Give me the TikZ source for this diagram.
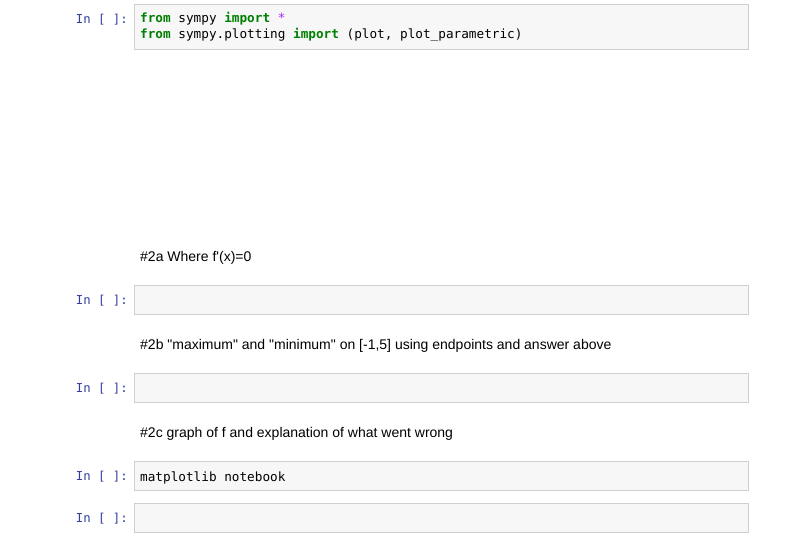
\documentclass[tikz,border=0pt]{standalone}
\usepackage{fontspec}
\setmainfont{Liberation Sans}[Ligatures=TeXOff]
\setmonofont{DejaVu Sans Mono}
\usetikzlibrary{positioning}
\definecolor{cellbg}{RGB}{247,247,247}
\definecolor{cellline}{RGB}{207,207,207}
\definecolor{promptc}{RGB}{48,63,159}
\definecolor{kwgreen}{RGB}{0,128,0}
\definecolor{oppurple}{RGB}{170,34,255}
\newcommand{\kw}[1]{\textcolor{kwgreen}{\textbf{#1}}}
\tikzset{
  cell/.style={shape=rectangle,draw=cellline,fill=cellbg,line width=0.8pt,anchor=north west,minimum width=614pt,inner sep=0pt},
  prompt/.style={anchor=east,text=promptc,font=\ttfamily\fontsize{12.3}{14}\selectfont,inner sep=0pt},
  code/.style={anchor=north west,align=left,font=\ttfamily\fontsize{12.7}{16}\selectfont,inner sep=0pt},
  mdtext/.style={anchor=west,font=\fontsize{14}{16}\selectfont,inner sep=0pt}
}
\begin{document}
\begin{tikzpicture}[x=1pt,y=-1pt]
\useasboundingbox (0,0) rectangle (801,540);
\node[cell,minimum height=45pt] (0) at (134,4) {};
\node[cell,minimum height=29pt] (1) at (134,285) {};
\node[cell,minimum height=29pt] (2) at (134,373) {};
\node[cell,minimum height=29pt] (3) at (134,461) {};
\node[cell,minimum height=29pt] (4) at (134,503) {};

\node[prompt] (p0) at (128,19.5) {In [ ]:};
\node[prompt] (p1) at (128,300.5) {In [ ]:};
\node[prompt] (p2) at (128,388.5) {In [ ]:};
\node[prompt] (p3) at (128,476.5) {In [ ]:};
\node[prompt] (p4) at (128,518.5) {In [ ]:};

\node[code] (c0) at (140,11.5) {\kw{from} sympy \kw{import} \textcolor{oppurple}{*}\\\kw{from} sympy.plotting \kw{import} (plot, plot\_parametric)};
\node[code,anchor=west] (c3) at (140,477.5) {matplotlib notebook};

\node[mdtext] (m0) at (140,257.5) {\#2a Where f'(x)=0};
\node[mdtext] (m1) at (140,345.5) {\#2b "maximum" and "minimum" on [-1,5] using endpoints and answer above};
\node[mdtext] (m2) at (140,433.5) {\#2c graph of f and explanation of what went wrong};
\end{tikzpicture}
\end{document}
